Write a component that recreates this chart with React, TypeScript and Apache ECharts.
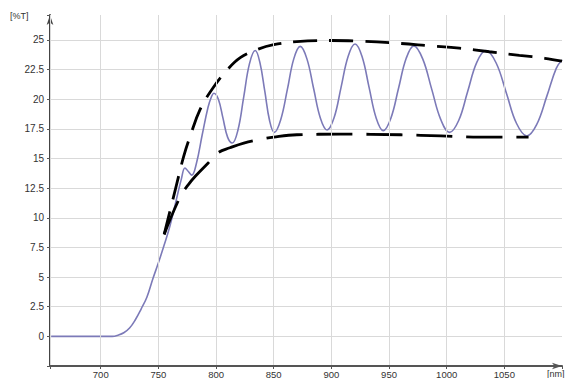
import React, { useEffect, useRef } from "react";
import * as echarts from "echarts";

// Measured transmission spectrum (wavelength in nm, transmittance in %T)
const wavelength = [
  657, 700, 710, 715, 720, 725, 730, 735, 740, 745, 750, 755, 760, 765, 770,
  773, 776, 779, 783, 788, 793, 796, 798,
  802, 806, 810, 814,
  819, 824, 829, 834,
  838, 842.3, 846.4, 850.5,
  856, 861.8, 867.4, 873,
  878.8, 884.6, 890.5, 896.3,
  902.4, 908.4, 914.5, 920.5,
  926.6, 932.7, 938.9, 945,
  951.6, 958.2, 964.9, 971.5,
  979.2, 987, 994.8, 1002.5,
  1010.4, 1018.2, 1026.1, 1034,
  1042.9, 1051.8, 1060.6, 1069.5,
  1078, 1087, 1095, 1100,
];
const transmittance = [
  0, 0, 0, 0.1, 0.3, 0.7, 1.4, 2.3, 3.3, 4.8, 6.2, 7.7, 9.3, 11.3, 13.3,
  14.2, 13.9, 13.6, 14.6, 17.0, 19.3, 20.2, 20.5,
  20.0, 18.4, 16.8, 16.3,
  17.4, 20.2, 23.0, 24.1,
  23.1, 20.65, 18.2, 17.2,
  18.25, 20.8, 23.4, 24.45,
  23.4, 20.9, 18.4, 17.4,
  18.45, 21.0, 23.6, 24.65,
  23.6, 21.0, 18.4, 17.35,
  18.4, 20.9, 23.45, 24.5,
  23.4, 20.85, 18.3, 17.2,
  18.2, 20.65, 23.1, 24.1,
  23.05, 20.5, 17.95, 16.9,
  17.85, 20.3, 22.6, 23.3,
];

// Hand-drawn envelopes through the fringe maxima and minima
const upperNm = [755, 765, 772, 778, 786, 797, 810, 821, 836, 850, 870, 900, 925, 960, 985, 1011, 1037, 1063, 1085, 1100];
const upperT = [8.6, 12.5, 15.2, 17.0, 19.1, 20.9, 22.5, 23.5, 24.2, 24.6, 24.85, 24.95, 24.9, 24.7, 24.5, 24.3, 24.0, 23.7, 23.45, 23.2];
const lowerNm = [755, 769, 776, 782, 793, 802, 812, 824, 838, 850, 870, 908, 960, 995, 1029, 1071];
const lowerT = [8.6, 11.8, 12.8, 13.5, 14.6, 15.5, 15.9, 16.3, 16.6, 16.8, 17.0, 17.05, 17.0, 16.9, 16.8, 16.8];

const yTickLabels = ["0", "2.5", "5", "7.5", "10", "12.5", "15", "17.5", "20", "22.5", "25"];
const xTickLabels = ["700", "750", "800", "850", "900", "950", "1000", "1050"];

const pairs = (xs: number[], ys: number[]) => xs.map((x, i) => [x, ys[i]]);

const labelFont = { fontFamily: "Liberation Sans, Arial, sans-serif", fontSize: 10, color: "#333" };

export default function App() {
  const ref = useRef<HTMLDivElement>(null);

  useEffect(() => {
    if (!ref.current) return;
    const chart = echarts.init(ref.current, undefined, { renderer: "svg" });

    const gridColor = "#d9d9d9";
    // 12 horizontal lines from -2.5 to 25 are grey, the top edge line is hidden
    const yLineColors = Array.from({ length: 12 }, () => gridColor).concat(["rgba(0,0,0,0)"]);
    // vertical lines: axis start, 700..1050, hidden at the right edge
    const xLineColors = Array.from({ length: 9 }, () => gridColor).concat(["rgba(0,0,0,0)"]);

    chart.setOption({
      animation: false,
      backgroundColor: "#ffffff",
      grid: { left: 50, right: 3, top: 15, bottom: 12, containLabel: false, outerBoundsMode: "none" },
      xAxis: {
        type: "value",
        position: "bottom",
        min: 656,
        max: 1100,
        splitNumber: 9,
        axisLine: {
          show: true,
          onZero: false,
          lineStyle: { color: "#555", width: 2 },
          symbol: ["none", "arrow"],
          symbolSize: [5, 10],
        },
        axisTick: { show: true, length: 3, lineStyle: { color: "#555" } },
        axisLabel: {
          ...labelFont,
          fontSize: 9.5,
          margin: 3,
          formatter: (v: number) => (xTickLabels.includes(String(v)) ? String(v) : ""),
        },
        splitLine: { show: true, lineStyle: { color: xLineColors, width: 1 } },
        z: 5,
      },
      yAxis: {
        type: "value",
        min: -2.5,
        max: 27.1,
        interval: 2.5,
        axisLine: {
          show: true,
          onZero: false,
          lineStyle: { color: "#444", width: 2 },
          symbol: ["none", "arrow"],
          symbolSize: [5, 10],
        },
        axisTick: { show: true, length: 3, lineStyle: { color: "#555" } },
        axisLabel: {
          ...labelFont,
          margin: 6,
          formatter: (v: number) => (yTickLabels.includes(String(v)) ? String(v) : ""),
        },
        splitLine: { show: true, lineStyle: { color: yLineColors, width: 1 } },
      },
      graphic: [
        { type: "text", left: 10, top: 11, style: { text: "[%T]", ...labelFont, fill: "#333", fontSize: 9 } },
        { type: "text", left: 547, top: 369, style: { text: "[nm]", ...labelFont, fill: "#333", fontSize: 9 } },
      ],
      series: [
        {
          type: "line",
          data: pairs(wavelength, transmittance),
          smooth: 0.4,
          showSymbol: false,
          lineStyle: { color: "#7c7ab8", width: 1.6 },
          z: 2,
        },
        {
          type: "line",
          data: pairs(upperNm, upperT),
          smooth: 0.4,
          showSymbol: false,
          lineStyle: { color: "#000", width: 2.8, type: [24, 12] },
          z: 3,
        },
        {
          type: "line",
          data: pairs(lowerNm, lowerT),
          smooth: 0.4,
          showSymbol: false,
          lineStyle: { color: "#000", width: 2.8, type: [36, 14] },
          z: 3,
        },
      ],
    });

    return () => chart.dispose();
  }, []);

  return (
    <div
      ref={ref}
      style={{ position: "fixed", left: 0, top: 0, width: 565, height: 378, background: "#fff" }}
    />
  );
}
